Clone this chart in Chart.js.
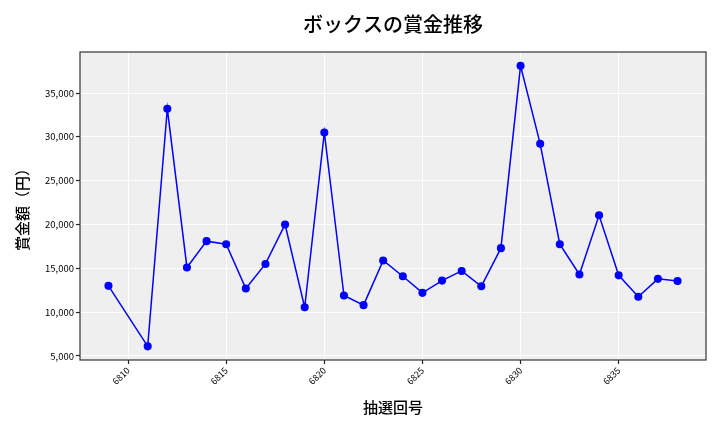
<!DOCTYPE html>
<html>
<head>
<meta charset="utf-8">
<script src="https://cdn.jsdelivr.net/npm/chart.js@4"></script>
<style>
  html, body { margin: 0; padding: 0; background: #fff; }
  #wrap { width: 720px; height: 432px; }
</style>
</head>
<body>
<div id="wrap"><canvas id="chart" width="720" height="432"></canvas></div>
<script>
// draw numbers and prize amounts (yen)
const draws = [6809, 6811, 6812, 6813, 6814, 6815, 6816, 6817, 6818, 6819,
  6820, 6821, 6822, 6823, 6824, 6825, 6826, 6827, 6828, 6829,
  6830, 6831, 6832, 6833, 6834, 6835, 6836, 6837, 6838];
const prizes = [13000, 6100, 33200, 15100, 18100, 17750, 12700, 15500, 20000, 10550,
  30500, 11900, 10800, 15900, 14100, 12200, 13600, 14700, 12950, 17300,
  38100, 29200, 17750, 14300, 21050, 14200, 11750, 13800, 13550];
const xTicks = [6810, 6815, 6820, 6825, 6830, 6835];
const yTicks = [5000, 10000, 15000, 20000, 25000, 30000, 35000];

const FONT = "'Noto Sans CJK JP', 'Noto Sans', sans-serif";

const frame = {
  id: "frame",
  beforeDraw(chart) {
    const a = chart.chartArea, c = chart.ctx;
    c.save();
    c.fillStyle = "#efefef";
    c.fillRect(a.left, a.top, a.right - a.left, a.bottom - a.top);
    c.restore();
  },
  afterDatasetsDraw(chart) {
    const a = chart.chartArea, c = chart.ctx;
    c.save();
    c.strokeStyle = "#333";
    c.lineWidth = 1.2;
    c.strokeRect(a.left, a.top, a.right - a.left, a.bottom - a.top);
    c.restore();
  }
};

new Chart(document.getElementById("chart"), {
  type: "line",
  data: {
    datasets: [{
      data: draws.map((d, i) => ({ x: d, y: prizes[i] })),
      borderColor: "#0000ff",
      backgroundColor: "#0000ff",
      borderWidth: 1.5,
      pointRadius: 3.3,
      pointHoverRadius: 3.3,
      tension: 0
    }]
  },
  options: {
    responsive: false,
    animation: false,
    layout: { padding: { left: 0, right: 14, top: 0, bottom: 0 } },
    plugins: {
      legend: { display: false },
      tooltip: { enabled: false },
      title: {
        display: true,
        text: "ボックスの賞金推移",
        fullSize: false,
        color: "#000",
        font: { family: FONT, size: 20, weight: "500" },
        padding: { top: 12, bottom: 16 }
      }
    },
    scales: {
      x: {
        type: "linear",
        min: 6807.55,
        max: 6839.45,
        afterBuildTicks(scale) { scale.ticks = xTicks.map(v => ({ value: v })); },
        afterFit(scale) { scale.height = 72; },
        grid: { color: "#ffffff", lineWidth: 1, tickColor: "#222", tickWidth: 1.2, tickLength: 4, drawTicks: true },
        border: { display: false },
        ticks: {
          color: "#000",
          font: { family: FONT, size: 9 },
          maxRotation: 45,
          minRotation: 45,
          padding: 1,
          callback: v => String(v)
        },
        title: {
          display: true,
          text: "抽選回号",
          color: "#000",
          font: { family: FONT, size: 15, weight: "500" },
          padding: { top: 2, bottom: 16 }
        }
      },
      y: {
        min: 4540,
        max: 39680,
        afterBuildTicks(scale) { scale.ticks = yTicks.map(v => ({ value: v })); },
        afterFit(scale) { scale.width = 80; },
        grid: { color: "#ffffff", lineWidth: 1, tickColor: "#222", tickWidth: 1.2, tickLength: 4, drawTicks: true },
        border: { display: false },
        ticks: {
          color: "#000",
          font: { family: FONT, size: 9.5 },
          padding: 2,
          callback: v => v.toLocaleString("en-US")
        },
        title: {
          display: true,
          text: "賞金額（円）",
          color: "#000",
          font: { family: FONT, size: 15, weight: "500" },
          padding: { top: 13, bottom: 4 }
        }
      }
    }
  },
  plugins: [frame]
});
</script>
</body>
</html>
